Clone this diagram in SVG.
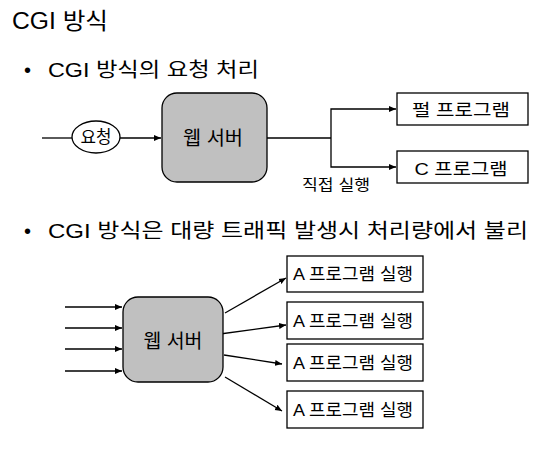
<svg xmlns="http://www.w3.org/2000/svg" width="548" height="473" viewBox="0 0 548 473">
<defs>
<marker id="ah" markerWidth="8" markerHeight="8" refX="7" refY="4" orient="auto" markerUnits="userSpaceOnUse">
<path d="M0,1 L7,4 L0,7 z" fill="#000"/>
</marker>
<style>
text{font-family:"Liberation Sans","Noto Sans CJK KR",sans-serif;fill:#000}
.h{font-size:23px}
.b{font-size:20px}
.n{font-size:19px;text-anchor:middle}
.s{font-size:17px;text-anchor:middle}
.srv{fill:#c0c0c0;stroke:#000;stroke-width:1.3}
.box{fill:#fff;stroke:#000;stroke-width:1.3}
.c{stroke:#000;stroke-width:1.3;fill:none}
.a{marker-end:url(#ah)}
</style>
</defs>
<rect width="548" height="473" fill="#fff"/>
<text class="h" x="12" y="29" textLength="96" lengthAdjust="spacingAndGlyphs">CGI 방식</text>
<text class="b" x="24" y="77">•</text>
<text class="b" x="48" y="77" textLength="211" lengthAdjust="spacingAndGlyphs">CGI 방식의 요청 처리</text>
<text class="b" x="24" y="238">•</text>
<text class="b" x="48" y="238" textLength="480" lengthAdjust="spacingAndGlyphs">CGI 방식은 대량 트래픽 발생시 처리량에서 불리</text>

<g id="connectors">
<line class="c" x1="42" y1="138" x2="72" y2="138"/>
<line class="c a" x1="120" y1="138" x2="161" y2="138"/>
<polyline class="c" points="267,138 331,138"/>
<polyline class="c a" points="331,138 331,109 396,109"/>
<polyline class="c a" points="331,138 331,167 396,167"/>
<line class="c a" x1="65" y1="307" x2="122" y2="307"/>
<line class="c a" x1="65" y1="328" x2="122" y2="328"/>
<line class="c a" x1="65" y1="349" x2="122" y2="349"/>
<line class="c a" x1="65" y1="371" x2="122" y2="371"/>
<line class="c a" x1="225" y1="313" x2="286" y2="278"/>
<line class="c a" x1="220" y1="334" x2="286" y2="325"/>
<line class="c a" x1="224" y1="355" x2="282" y2="364"/>
<line class="c a" x1="225" y1="377" x2="282" y2="411"/>
</g>

<g id="req">
<ellipse cx="96" cy="137" rx="24" ry="16" class="box"/>
<text class="s" x="96" y="143" textLength="31" lengthAdjust="spacingAndGlyphs">요청</text>
</g>
<g id="server1">
<rect x="162" y="93" width="105" height="89" rx="15" class="srv"/>
<text class="n" x="213" y="145" textLength="60" lengthAdjust="spacingAndGlyphs">웹 서버</text>
</g>
<g id="perl">
<rect x="397" y="93" width="131" height="32" class="box"/>
<text class="s" x="461" y="116" textLength="98" lengthAdjust="spacingAndGlyphs">펄 프로그램</text>
</g>
<g id="cprog">
<rect x="397" y="151" width="131" height="32" class="box"/>
<text class="s" x="461" y="175" textLength="93" lengthAdjust="spacingAndGlyphs">C 프로그램</text>
</g>
<g id="label-direct">
<text class="s" x="336" y="190" style="font-size:15px" textLength="68" lengthAdjust="spacingAndGlyphs">직접 실행</text>
</g>
<g id="server2">
<rect x="123" y="297" width="100" height="85" rx="15" class="srv"/>
<text class="n" x="173" y="348" textLength="59" lengthAdjust="spacingAndGlyphs">웹 서버</text>
</g>
<g id="a1">
<rect x="287" y="256" width="136" height="36" class="box"/>
<text class="s" x="353" y="280" textLength="120" lengthAdjust="spacingAndGlyphs">A 프로그램 실행</text>
</g>
<g id="a2">
<rect x="287" y="302" width="136" height="37" class="box"/>
<text class="s" x="353" y="327" textLength="120" lengthAdjust="spacingAndGlyphs">A 프로그램 실행</text>
</g>
<g id="a3">
<rect x="287" y="344" width="136" height="37" class="box"/>
<text class="s" x="353" y="369" textLength="120" lengthAdjust="spacingAndGlyphs">A 프로그램 실행</text>
</g>
<g id="a4">
<rect x="287" y="391" width="136" height="37" class="box"/>
<text class="s" x="353" y="416" textLength="120" lengthAdjust="spacingAndGlyphs">A 프로그램 실행</text>
</g>
</svg>
